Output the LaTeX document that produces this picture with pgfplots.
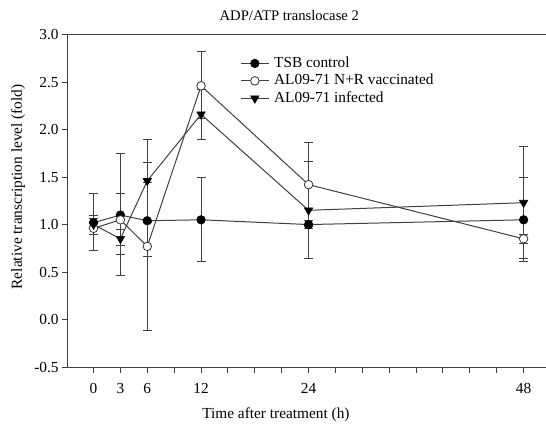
\documentclass[border=0pt]{standalone}
\usepackage{pgfplots}
\pgfplotsset{compat=1.18}
\usepackage{pgfplotstable}
\usepackage{fontspec}
\setmainfont{Liberation Serif}

\pgfplotstableread{
x y ep em
0 1.02 0.04 0.04
3 1.10 0.23 0.32
6 1.04 0.40 0.38
12 1.05 0.44 0.44
24 1.00 0.04 0.04
48 1.05 0.44 0.44
}\tsb
\pgfplotstableread{
x y ep em
0 0.96 0.37 0.23
3 1.05 0.70 0.37
6 0.77 0.88 0.88
12 2.46 0.36 0.34
24 1.42 0.44 0.44
48 0.85 0.05 0.05
}\vac
\pgfplotstableread{
x y ep em
0 1.00 0.10 0.10
3 0.85 0.10 0.39
6 1.46 0.44 0.44
12 2.16 0.26 0.26
24 1.15 0.51 0.51
48 1.23 0.59 0.59
}\inf

\definecolor{ln}{gray}{0.25}

\begin{document}
\fontsize{11.5}{13.8}\selectfont
\begin{tikzpicture}
\begin{axis}[
  scale only axis,
  width=358.5pt, height=249.4pt,
  xmin=-2.85, xmax=50.5, ymin=-0.5, ymax=3.0,
  axis lines*=left,
  axis line style={-, line width=0.75pt, color=ln},
  tick align=outside,
  major tick length=4.5pt, minor tick length=4.5pt,
  tick style={line width=0.75pt, color=ln},
  xtick={0,3,6,12,24,48},
  minor xtick={9,15,18,21,27,30,33,36,39,42,45},
  ytick={-0.5,0,0.5,1,1.5,2,2.5,3},
  /pgf/number format/assume math mode=true,
  yticklabel style={/pgf/number format/.cd, fixed, fixed zerofill, precision=1, /tikz/.cd, xshift=1.5pt},
  xticklabel style={/pgf/number format/.cd, fixed, precision=0, /tikz/.cd, yshift=-4pt},
  xlabel={Time after treatment (h)},
  ylabel={Relative transcription level (fold)},
  every axis x label/.style={at={(axis description cs:0.435,0)}, anchor=center, yshift=-36pt},
  every axis y label/.style={at={([xshift=-37.5pt]axis description cs:0,0.542)}, rotate=90, anchor=center},
  title={ADP/ATP translocase 2},
  every axis title/.style={at={(axis description cs:0.463,1)}, anchor=center, yshift=14.6pt, font=\fontsize{11}{13}\selectfont},
  legend style={at={(axis description cs:0.360,0.938)}, anchor=north west, draw=none, fill=none,
    inner sep=0pt, row sep=1.1pt, font=\fontsize{11.5}{13.8}\selectfont,
    nodes={inner xsep=3.6pt, inner ysep=0pt, text height=9pt, text depth=3pt}},
  legend cell align=left,
  legend image code/.code={\draw[mark repeat=2,mark phase=2,#1] plot coordinates {(0pt,0pt)(10.5pt,0pt)(21pt,0pt)};},
  error bars/error bar style={line width=0.75pt, color=ln},
  error bars/error mark options={rotate=90, mark size=3.4pt, line width=0.75pt, color=ln},
]
\addplot[color=ln, line width=0.75pt, mark=*, mark size=3.2pt, mark options={fill=black, draw=black, line width=0.5pt},
  error bars/.cd, y dir=both, y explicit]
  table[x=x, y=y, y error plus=ep, y error minus=em] {\tsb};
\addlegendentry{TSB control}
\addplot[color=ln, line width=0.75pt, mark=*, mark size=3.2pt, mark options={fill=white, draw=black!80, line width=0.6pt},
  error bars/.cd, y dir=both, y explicit]
  table[x=x, y=y, y error plus=ep, y error minus=em] {\vac};
\addlegendentry{AL09-71 N+R vaccinated}
\addplot[color=ln, line width=0.75pt, mark=triangle*, mark size=3.6pt, mark options={rotate=180, fill=black, draw=black, line width=0.5pt},
  error bars/.cd, y dir=both, y explicit]
  table[x=x, y=y, y error plus=ep, y error minus=em] {\inf};
\addlegendentry{AL09-71 infected}
\draw[line width=0.75pt, color=ln] (rel axis cs:0,1) -- (rel axis cs:1,1);
\end{axis}
\pgfresetboundingbox
\path (-51pt,-43.5pt) rectangle (358.5pt,275.3pt);
\end{tikzpicture}
\end{document}
